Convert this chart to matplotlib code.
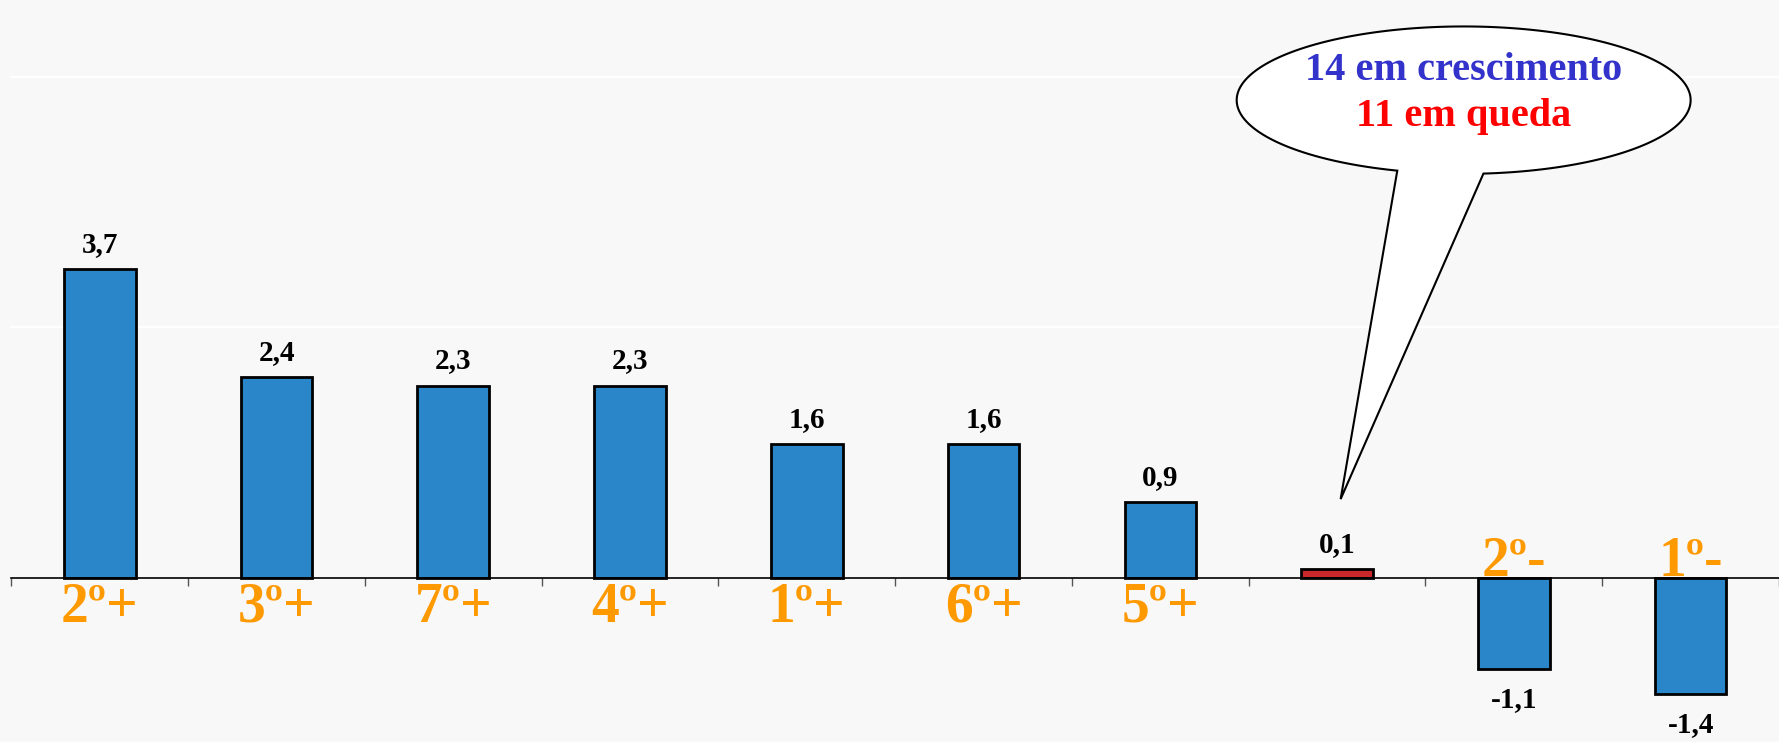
import numpy as np
import matplotlib
matplotlib.use("Agg")
import matplotlib.pyplot as plt
from matplotlib.patches import Polygon

# ---- data ----
values = [3.7, 2.4, 2.3, 2.3, 1.6, 1.6, 0.9, 0.1, -1.1, -1.4]
value_labels = ["3,7", "2,4", "2,3", "2,3", "1,6", "1,6", "0,9", "0,1", "-1,1", "-1,4"]
rank_labels = ["2º+", "3º+", "7º+", "4º+", "1º+", "6º+", "5º+", "", "2º-", "1º-"]
highlight_index = 7
callout_lines = ["14 em crescimento", "11 em queda"]

BLUE = "#2a86c8"
RED = "#c8282a"
ORANGE = "#ff9900"
BG = "#f8f8f8"
SERIF = ["Liberation Serif", "DejaVu Serif"]

fig = plt.figure(figsize=(17.79, 7.42), dpi=100, facecolor=BG)
ax = fig.add_axes([0.0064, 0.0, 0.9936, 1.0])
ax.set_facecolor(BG)

x = np.arange(len(values))
colors = [RED if i == highlight_index else BLUE for i in range(len(values))]
bars = ax.bar(x, values, width=0.405, color=colors, edgecolor="black", linewidth=2, zorder=3)

ax.set_xlim(-0.5, len(values) - 0.5)
ax.set_ylim(-1.97, 6.92)

# faint gridlines
for g in [3, 6]:
    ax.axhline(g, color="white", linewidth=1.5, zorder=1)

for s in ["top", "right", "left"]:
    ax.spines[s].set_visible(False)
ax.spines["bottom"].set_position(("data", 0))
ax.spines["bottom"].set_color("black")
ax.spines["bottom"].set_linewidth(1.2)
ax.spines["bottom"].set_zorder(4)
ax.set_yticks([])
ax.set_xticks(np.arange(-0.5, len(values), 1.0))
ax.set_xticklabels([])
ax.tick_params(axis="x", direction="out", length=6, width=1, color="#555555")

# value labels
for xi, v, lab in zip(x, values, value_labels):
    if v >= 0:
        ax.annotate(lab, (xi, v), xytext=(0, 8), textcoords="offset points",
                    ha="center", va="bottom", fontsize=21, fontweight="bold",
                    family=SERIF, color="black", zorder=5)
    else:
        ax.annotate(lab, (xi, v), xytext=(0, -12), textcoords="offset points",
                    ha="center", va="top", fontsize=21, fontweight="bold",
                    family=SERIF, color="black", zorder=5)

# rank labels
for xi, v, lab in zip(x, values, rank_labels):
    if not lab:
        continue
    if v >= 0:
        ax.annotate(lab, (xi, 0), xytext=(0, -3), textcoords="offset points",
                    ha="center", va="top", fontsize=40, fontweight="bold",
                    family=SERIF, color=ORANGE, zorder=5)
    else:
        ax.annotate(lab, (xi, 0), xytext=(0, 1), textcoords="offset points",
                    ha="center", va="baseline", fontsize=40, fontweight="bold",
                    family=SERIF, color=ORANGE, zorder=5)

# callout bubble
cx, cy, a, b = 7.716, 5.72, 1.284, 0.883
tip = (7.02, 0.94)
t = np.radians(np.linspace(-85, 253, 300))
pts = np.column_stack([cx + a * np.cos(t), cy + b * np.sin(t)])
pts = np.vstack([pts, tip])
bubble = Polygon(pts, closed=True, facecolor="white", edgecolor="black", linewidth=1.5, zorder=6)
ax.add_patch(bubble)
ax.text(cx, 6.07, callout_lines[0], ha="center", va="center", fontsize=29,
        fontweight="bold", family=SERIF, color="#3333cc", zorder=7)
ax.text(cx, 5.53, callout_lines[1], ha="center", va="center", fontsize=29,
        fontweight="bold", family=SERIF, color="#ff0000", zorder=7)

fig.savefig("out.png", dpi=100, facecolor=BG)
